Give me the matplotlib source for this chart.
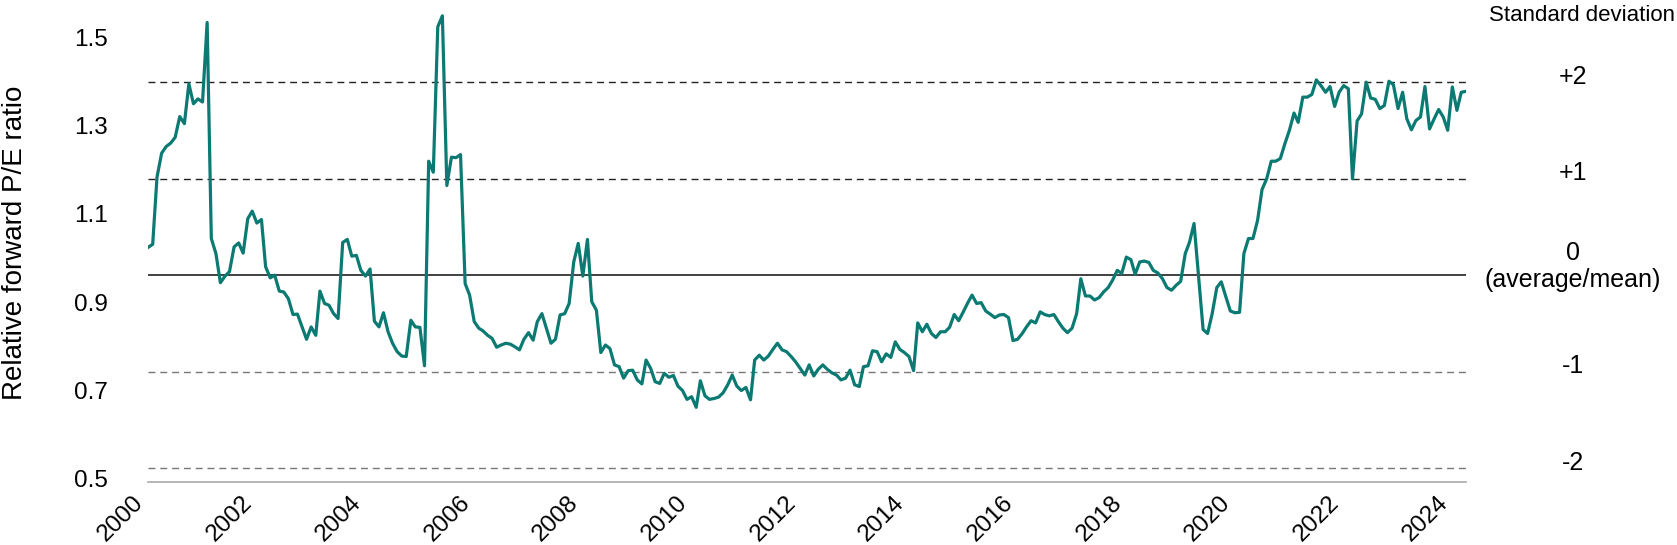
import numpy as np
import pandas as pd
import matplotlib
matplotlib.use("Agg")
import matplotlib.pyplot as plt
import matplotlib.transforms as mtransforms

# ── Data: monthly relative forward P/E, Jan 2000 onwards ───────────────────────
pe_2000_2002 = [1.024, 1.031, 1.183, 1.237, 1.252, 1.260, 1.273, 1.320, 1.304, 1.394,
                1.349, 1.360, 1.353, 1.533, 1.044, 1.010, 0.944, 0.959, 0.969, 1.025,
                1.034, 1.011, 1.089, 1.106, 1.079, 1.087, 0.980, 0.955, 0.961, 0.925,
                0.923, 0.908, 0.872, 0.873, 0.844, 0.816, 0.844]
pe_2003_2005 = [0.825, 0.925, 0.897, 0.893, 0.874, 0.863, 1.035, 1.042, 1.004, 1.006,
                0.972, 0.959, 0.975, 0.857, 0.844, 0.876, 0.833, 0.807, 0.788, 0.778,
                0.777, 0.859, 0.844, 0.843, 0.756, 1.219, 1.194, 1.523, 1.548, 1.164,
                1.228, 1.227, 1.234, 0.942, 0.916, 0.856]
pe_2006_2009 = [0.841, 0.835, 0.825, 0.818, 0.798, 0.803, 0.807, 0.805, 0.799, 0.792,
                0.816, 0.831, 0.814, 0.856, 0.874, 0.841, 0.807, 0.816, 0.871, 0.874,
                0.897, 0.991, 1.033, 0.959, 1.042, 0.901, 0.882, 0.786, 0.803, 0.795,
                0.758, 0.754, 0.728, 0.745, 0.746, 0.724, 0.715]
pe_2009_2012 = [0.769, 0.750, 0.720, 0.716, 0.739, 0.730, 0.734, 0.710, 0.700, 0.680,
                0.686, 0.662, 0.722, 0.688, 0.680, 0.682, 0.685, 0.695, 0.713, 0.735,
                0.710, 0.700, 0.707, 0.679, 0.769, 0.780, 0.769, 0.778, 0.793, 0.807,
                0.792, 0.788, 0.777, 0.765, 0.750, 0.735]
pe_2012_2015 = [0.758, 0.733, 0.748, 0.758, 0.748, 0.740, 0.735, 0.724, 0.728, 0.746,
                0.713, 0.709, 0.754, 0.756, 0.790, 0.788, 0.765, 0.783, 0.775, 0.810,
                0.793, 0.786, 0.777, 0.745, 0.853, 0.833, 0.850, 0.829, 0.820, 0.833,
                0.833, 0.843, 0.872, 0.858, 0.878, 0.899, 0.916]
pe_2015_2018 = [0.897, 0.899, 0.880, 0.873, 0.865, 0.871, 0.872, 0.865, 0.813, 0.816,
                0.829, 0.844, 0.858, 0.853, 0.878, 0.872, 0.869, 0.872, 0.856, 0.841,
                0.831, 0.841, 0.874, 0.953, 0.914, 0.914, 0.905, 0.910, 0.923, 0.933,
                0.950, 0.972, 0.965, 1.002, 0.996, 0.963]
pe_2018_2021 = [0.991, 0.993, 0.990, 0.972, 0.966, 0.953, 0.933, 0.927, 0.938, 0.947,
                1.010, 1.035, 1.078, 0.960, 0.838, 0.829, 0.874, 0.933, 0.946, 0.912,
                0.880, 0.876, 0.877, 1.010, 1.044, 1.044, 1.085, 1.155, 1.179, 1.219,
                1.219, 1.225, 1.258, 1.289, 1.328, 1.307, 1.364]
pe_2021_2024 = [1.364, 1.370, 1.403, 1.390, 1.375, 1.388, 1.343, 1.375, 1.390, 1.383,
                1.179, 1.310, 1.326, 1.398, 1.362, 1.359, 1.338, 1.345, 1.400, 1.392,
                1.338, 1.375, 1.315, 1.290, 1.311, 1.319, 1.388, 1.292, 1.315, 1.336,
                1.319, 1.289, 1.387, 1.334, 1.375, 1.377]

pe_values = (pe_2000_2002 + pe_2003_2005 + pe_2006_2009 + pe_2009_2012
             + pe_2012_2015 + pe_2015_2018 + pe_2018_2021 + pe_2021_2024)
dates = pd.date_range("2000-01-01", periods=len(pe_values), freq="MS")

mean_pe = 0.961
std_pe = 0.2185
sd_levels = [2, 1, -1, -2]
sd_labels = ["+2", "+1", "-1", "-2"]
y_ticks = [0.5, 0.7, 0.9, 1.1, 1.3, 1.5]
x_tick_years = list(range(2000, 2025, 2))

# ── Plot ───────────────────────────────────────────────────────────────────────
plt.rcParams["font.family"] = ["Liberation Sans", "DejaVu Sans"]

color_line = "#0A7A72"

fig = plt.figure(figsize=(16.77, 5.45), dpi=100)
ax = fig.add_axes([0.0883, 0.1156, 0.7858, 0.8651])

for k in sd_levels:
    ax.axhline(mean_pe + k * std_pe, color="#222222" if k > 0 else "#777777",
               lw=1.0, ls=(0, (5, 3.5)), zorder=1)
ax.axhline(mean_pe, color="#333333", lw=1.3, zorder=1)

ax.plot(dates, pe_values, color=color_line, lw=2.3, zorder=3)

ax.set_xlim(dates[0], dates[-1])
ax.set_ylim(0.493, 1.56)
ax.set_yticks(y_ticks)
ax.set_yticklabels([f"{v:.1f}" for v in y_ticks])
ax.set_xticks([pd.Timestamp(f"{y}-01-01") for y in x_tick_years])
ax.set_xticklabels([str(y) for y in x_tick_years], rotation=45, ha="right")
ax.tick_params(axis="y", length=0, pad=29, labelsize=17.5)
ax.tick_params(axis="x", length=0, pad=7, labelsize=17.5)

for side in ["top", "right", "left"]:
    ax.spines[side].set_visible(False)
ax.spines["bottom"].set_color("#aaaaaa")
ax.spines["bottom"].set_linewidth(1.2)

fig.text(0.009, 0.554, "Relative forward P/E ratio", rotation=90,
         ha="center", va="center", fontsize=20)

# Standard deviation labels on the right
trans = mtransforms.blended_transform_factory(ax.transAxes, ax.transData)
for k, lab in zip(sd_levels, sd_labels):
    ax.text(1.081, mean_pe + k * std_pe + 0.012, lab, transform=trans,
            ha="center", va="center", fontsize=18, clip_on=False)
ax.text(1.081, mean_pe + 0.02, "0\n(average/mean)", transform=trans,
        ha="center", va="center", fontsize=18, linespacing=1.15, clip_on=False)
fig.text(0.999, 0.972, "Standard deviation", ha="right", va="center", fontsize=16)

fig.savefig("out.png", dpi=100)
